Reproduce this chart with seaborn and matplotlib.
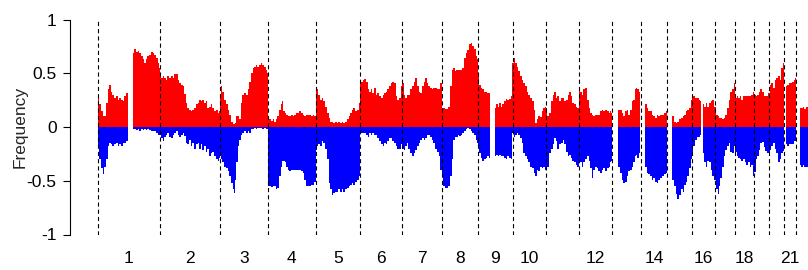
import numpy as np
import pandas as pd
import seaborn as sns
import matplotlib
matplotlib.use('Agg')
import matplotlib.pyplot as plt

# chromosome sizes (hg19, Mb) and which names get a label under the axis
chrom_len = [249.3, 243.2, 198.0, 191.2, 180.9, 171.1, 159.1, 146.4, 141.2, 135.5, 135.0,
             133.9, 115.2, 107.3, 102.5, 90.4, 81.2, 78.1, 59.1, 63.0, 48.1, 51.3]
chrom_names = [str(i) for i in range(1, 23)]
shown_labels = ['1', '2', '3', '4', '5', '6', '7', '8', '9', '10', '12', '14', '16', '18', '21']

nan = np.nan
# genome position (Mb), gain frequency, loss frequency; nan = no probes
pos_mb = [1, 8, 15, 22, 28, 35, 42, 49, 55, 62, 69, 76, 82, 89, 96, 103, 109, 116, 123, 130,
          143, 150, 157, 164, 170, 177, 184, 191, 197, 204, 211, 218, 224, 231, 238, 245, 248,
          251, 258, 265, 272, 278, 285, 292, 299, 305, 312, 319, 326, 332, 339, 346, 353, 359,
          366, 373, 380, 386, 393, 400, 407, 413, 420, 427, 434, 440, 447, 454, 461, 467, 474,
          481, 488, 491,
          494, 501, 508, 515, 522, 528, 535, 542, 549, 553, 558, 562, 569, 576, 582, 589, 596,
          603, 609, 616, 623, 630, 636, 643, 650, 657, 663, 670, 677, 684, 689,
          692, 698, 704, 711, 718, 724, 731, 738, 745, 749, 754, 758, 765, 772, 778, 785, 792,
          799, 805, 812, 819, 826, 832, 839, 846, 853, 859, 866, 873, 880,
          884, 890, 897, 904, 911, 917, 924, 931, 938, 944, 951, 958, 965, 971, 978, 985, 992,
          998, 1005, 1012, 1019, 1026, 1032, 1039, 1046, 1053, 1059, 1061,
          1064, 1069, 1076, 1082, 1089, 1096, 1103, 1109, 1116, 1123, 1130, 1136, 1143, 1150,
          1157, 1163, 1170, 1177, 1184, 1190, 1197, 1204, 1211, 1217, 1224, 1231,
          1235, 1242, 1248, 1255, 1262, 1269, 1276, 1282, 1289, 1296, 1303, 1309, 1316, 1323,
          1330, 1336, 1343, 1350, 1357, 1363, 1370, 1377, 1384, 1390,
          1397, 1404, 1411, 1417, 1424, 1431, 1438, 1444, 1447, 1454, 1461, 1467, 1474, 1481,
          1488, 1494, 1501, 1508, 1515, 1521, 1528, 1535, 1538,
          1542, 1548, 1555, 1562, 1569, 1575, 1582, 1588, 1598, 1609, 1616, 1623, 1630, 1636,
          1643, 1650, 1657, 1663, 1670, 1677,
          1682, 1688, 1694, 1701, 1708, 1715, 1721, 1728, 1735, 1742, 1748, 1755, 1762, 1769,
          1775, 1782, 1789, 1796, 1802, 1809, 1814,
          1819, 1825, 1832, 1839, 1846, 1852, 1859, 1866, 1873, 1880, 1886, 1893, 1900, 1907,
          1913, 1920, 1927, 1934, 1940, 1947,
          1952, 1958, 1965, 1971, 1978, 1985, 1992, 1998, 2005, 2012, 2019, 2025, 2032, 2039,
          2046, 2052, 2059, 2066, 2073, 2079, 2083, 2095,
          2106, 2113, 2120, 2127, 2133, 2140, 2147, 2154, 2160, 2167, 2174, 2177, 2183, 2190,
          2197, 2208,
          2217, 2221, 2228, 2235, 2242, 2248, 2255, 2262, 2269, 2275, 2282, 2289, 2296, 2302,
          2306, 2316,
          2325, 2332, 2339, 2346, 2352, 2359, 2366, 2373, 2379, 2386, 2393, 2400, 2406,
          2411, 2417, 2424, 2431, 2438, 2444, 2449, 2454, 2461, 2467, 2474, 2481, 2488, 2494,
          2501, 2508, 2515, 2520, 2527, 2533, 2540, 2547, 2554, 2560, 2567, 2574, 2580,
          2585, 2592, 2598, 2605, 2612, 2619, 2625, 2632, 2639, 2646, 2652, 2658,
          2662, 2669, 2675, 2682, 2689, 2696, 2702, 2709, 2716,
          2720, 2727, 2733, 2740, 2747, 2754, 2760, 2767, 2774, 2779, 2785,
          2791, 2797, 2804, 2810, 2817, 2824, 2829, 2838,
          2847, 2854, 2860, 2867, 2874, 2880]

gain = [0.30, 0.21, 0.15, 0.10, 0.10, 0.22, 0.35, 0.39, 0.33, 0.30, 0.27, 0.29, 0.25, 0.27,
        0.25, 0.24, 0.29, 0.32, 0.36, nan,
        0.69, 0.73, 0.70, 0.71, 0.69, 0.66, 0.63, 0.60, 0.63, 0.66, 0.67, 0.70, 0.69, 0.67,
        0.64, 0.60, 0.55,
        0.49, 0.46, 0.47, 0.46, 0.44, 0.47, 0.46, 0.47, 0.46, 0.49, 0.49, 0.44, 0.41, 0.39,
        0.38, 0.31, 0.22, 0.18, 0.16, 0.15, 0.16, 0.18, 0.21, 0.22, 0.25, 0.24, 0.25, 0.22,
        0.24, 0.18, 0.19, 0.21, 0.18, 0.15, 0.16, 0.13, 0.15,
        0.29, 0.38, 0.33, 0.25, 0.21, 0.16, 0.11, 0.05, 0.03, 0.03, 0.04, 0.10, 0.10, 0.07,
        0.22, 0.30, 0.32, 0.30, 0.35, 0.42, 0.50, 0.55, 0.56, 0.58, 0.56, 0.58, 0.60, 0.58,
        0.56, 0.53, 0.50,
        0.07, 0.07, 0.06, 0.07, 0.05, 0.07, 0.10, 0.16, 0.21, 0.24, 0.15, 0.13, 0.11, 0.10,
        0.10, 0.11, 0.10, 0.11, 0.13, 0.13, 0.15, 0.13, 0.11, 0.10, 0.11, 0.11, 0.11, 0.10,
        0.11, 0.10,
        0.36, 0.35, 0.30, 0.25, 0.27, 0.24, 0.19, 0.13, 0.08, 0.05, 0.05, 0.04, 0.05, 0.04,
        0.05, 0.04, 0.05, 0.04, 0.05, 0.07, 0.10, 0.13, 0.16, 0.18, 0.15, 0.16, 0.19, 0.22,
        0.42, 0.42, 0.44, 0.45, 0.42, 0.35, 0.33, 0.35, 0.32, 0.36, 0.30, 0.32, 0.29, 0.27,
        0.30, 0.32, 0.33, 0.35, 0.38, 0.41, 0.42, 0.41, 0.29, 0.25, 0.27, 0.38,
        0.41, 0.30, 0.27, 0.30, 0.30, 0.35, 0.38, 0.42, 0.46, 0.38, 0.33, 0.32, 0.38, 0.42,
        0.46, 0.41, 0.38, 0.36, 0.35, 0.36, 0.36, 0.35, 0.35, 0.41,
        0.18, 0.18, 0.17, 0.17, 0.19, 0.38, 0.53, 0.55, 0.52, 0.53, 0.53, 0.53, 0.53, 0.55,
        0.64, 0.69, 0.72, 0.77, 0.78, 0.75, 0.73, 0.66, 0.63,
        0.50, 0.39, 0.36, 0.35, 0.33, 0.33, 0.32, 0.32, nan, 0.18, 0.21, 0.19, 0.22, 0.19,
        0.21, 0.24, 0.26, 0.25, 0.26, 0.29,
        0.60, 0.64, 0.60, 0.56, 0.52, 0.47, 0.44, 0.41, 0.38, 0.33, 0.30, 0.27, 0.24, 0.16,
        0.04, 0.07, 0.10, 0.09, 0.15, 0.18, 0.19,
        0.18, 0.10, 0.13, 0.24, 0.30, 0.33, 0.27, 0.29, 0.24, 0.27, 0.27, 0.24, 0.25, 0.30,
        0.33, 0.29, 0.22, 0.21, 0.19, 0.18,
        0.35, 0.33, 0.30, 0.35, 0.36, 0.25, 0.18, 0.13, 0.11, 0.10, 0.11, 0.11, 0.11, 0.15,
        0.16, 0.15, 0.16, 0.15, 0.13, 0.15, 0.13, nan,
        0.11, 0.16, 0.16, 0.13, 0.10, 0.15, 0.16, 0.11, 0.16, 0.24, 0.25, 0.35, 0.36, 0.35,
        0.33, nan,
        0.15, 0.21, 0.18, 0.15, 0.15, 0.11, 0.10, 0.08, 0.11, 0.10, 0.11, 0.11, 0.13, 0.13,
        0.15, nan,
        0.13, 0.10, 0.05, 0.04, 0.05, 0.07, 0.08, 0.10, 0.11, 0.15, 0.16, 0.18, 0.25,
        0.27, 0.29, 0.27, 0.27, 0.25, 0.24, nan, 0.21, 0.19, 0.22, 0.19, 0.22, 0.24, 0.25,
        0.19, 0.11, 0.10, 0.08, 0.08, 0.07, 0.08, 0.11, 0.18, 0.25, 0.33, 0.35, 0.41,
        0.27, 0.29, 0.27, 0.29, 0.25, 0.29, 0.29, 0.29, 0.29, 0.29, 0.30, 0.33,
        0.30, 0.29, 0.30, 0.33, 0.35, 0.33, 0.29, 0.29, 0.29,
        0.32, 0.39, 0.41, 0.36, 0.44, 0.46, 0.47, 0.44, 0.55, 0.60, nan,
        0.38, 0.39, 0.41, 0.41, 0.42, 0.44, 0.46, nan,
        0.18, 0.18, 0.19, 0.17, 0.19, 0.19]

loss = [-0.18, -0.30, -0.38, -0.44, -0.37, -0.30, -0.18, -0.15, -0.16, -0.18, -0.16, -0.15,
        -0.18, -0.16, -0.18, -0.15, -0.15, -0.13, -0.10, nan,
        -0.02, -0.02, -0.03, -0.02, -0.04, -0.02, -0.03, -0.02, -0.03, -0.02, -0.03, -0.04,
        -0.04, -0.04, -0.06, -0.07, -0.07,
        -0.07, -0.10, -0.13, -0.09, -0.07, -0.06, -0.09, -0.10, -0.07, -0.06, -0.04, -0.07,
        -0.09, -0.07, -0.06, -0.08, -0.15, -0.16, -0.12, -0.18, -0.15, -0.20, -0.16, -0.15,
        -0.20, -0.16, -0.21, -0.18, -0.23, -0.20, -0.27, -0.24, -0.23, -0.27, -0.30, -0.32,
        -0.29,
        -0.24, -0.30, -0.33, -0.37, -0.38, -0.41, -0.46, -0.52, -0.58, -0.61, -0.49, -0.33,
        -0.18, -0.12, -0.07, -0.06, -0.04, -0.06, -0.04, -0.06, -0.02, -0.02, -0.01, -0.02,
        -0.01, -0.01, -0.01, -0.02, -0.01, -0.02, -0.02,
        -0.55, -0.55, -0.56, -0.55, -0.55, -0.58, -0.57, -0.46, -0.37, -0.32, -0.32, -0.33,
        -0.37, -0.40, -0.41, -0.40, -0.40, -0.40, -0.40, -0.40, -0.40, -0.41, -0.43, -0.49,
        -0.55, -0.55, -0.55, -0.54, -0.54, -0.51,
        -0.21, -0.18, -0.16, -0.18, -0.13, -0.15, -0.20, -0.30, -0.52, -0.58, -0.63, -0.61,
        -0.60, -0.60, -0.58, -0.60, -0.58, -0.60, -0.58, -0.57, -0.55, -0.54, -0.52, -0.54,
        -0.51, -0.49, -0.47, -0.46,
        -0.06, -0.06, -0.06, -0.06, -0.07, -0.09, -0.06, -0.07, -0.06, -0.07, -0.07, -0.10,
        -0.13, -0.16, -0.18, -0.15, -0.16, -0.13, -0.10, -0.10, -0.13, -0.15, -0.18, -0.20,
        -0.20, -0.16,
        -0.20, -0.21, -0.18, -0.15, -0.20, -0.24, -0.27, -0.24, -0.21, -0.18, -0.15, -0.12,
        -0.10, -0.12, -0.10, -0.07, -0.07, -0.09, -0.12, -0.15, -0.20, -0.23, -0.27, -0.40,
        -0.46, -0.55, -0.57, -0.57, -0.55, -0.46, -0.30, -0.12, -0.09, -0.09, -0.07, -0.08,
        -0.07, -0.06, -0.04, -0.02, -0.01, -0.02, -0.04, -0.06, -0.07, -0.12, -0.15,
        -0.18, -0.24, -0.29, -0.32, -0.30, -0.29, -0.27, -0.29, nan, -0.27, -0.26, -0.27,
        -0.26, -0.27, -0.27, -0.29, -0.30, -0.27, -0.29, -0.30,
        -0.06, -0.09, -0.07, -0.06, -0.07, -0.10, -0.15, -0.24, -0.27, -0.30, -0.33, -0.37,
        -0.38, -0.43, -0.46, -0.40, -0.41, -0.37, -0.38, -0.37, -0.40,
        -0.40, -0.37, -0.24, -0.20, -0.16, -0.10, -0.13, -0.20, -0.16, -0.15, -0.12, -0.16,
        -0.23, -0.27, -0.26, -0.29, -0.32, -0.33, -0.35, -0.37,
        -0.30, -0.33, -0.37, -0.33, -0.30, -0.27, -0.32, -0.38, -0.47, -0.40, -0.37, -0.38,
        -0.41, -0.43, -0.40, -0.38, -0.41, -0.38, -0.37, -0.33, -0.32, nan,
        -0.35, -0.37, -0.43, -0.49, -0.52, -0.51, -0.46, -0.41, -0.40, -0.37, -0.33, -0.27,
        -0.26, -0.29, -0.24, nan,
        -0.30, -0.37, -0.43, -0.44, -0.46, -0.49, -0.47, -0.51, -0.52, -0.49, -0.47, -0.46,
        -0.44, -0.44, -0.43, nan,
        -0.37, -0.49, -0.55, -0.62, -0.67, -0.63, -0.58, -0.60, -0.54, -0.51, -0.46, -0.38,
        -0.30,
        -0.24, -0.18, -0.12, -0.09, -0.09, -0.07, nan, -0.24, -0.33, -0.37, -0.32, -0.33,
        -0.40, -0.46,
        -0.49, -0.58, -0.62, -0.55, -0.47, -0.37, -0.27, -0.21, -0.18, -0.15, -0.23, -0.24,
        -0.18,
        -0.23, -0.27, -0.29, -0.30, -0.32, -0.30, -0.33, -0.35, -0.33, -0.37, -0.35, -0.46,
        -0.42, -0.30, -0.27, -0.21, -0.15, -0.14, -0.19, -0.22, -0.24,
        -0.24, -0.21, -0.18, -0.15, -0.20, -0.24, -0.33, -0.30, -0.24, -0.22, nan,
        -0.16, -0.18, -0.16, -0.16, -0.16, -0.13, -0.13, nan,
        -0.35, -0.37, -0.35, -0.37, -0.37, -0.37]

df = pd.DataFrame({'pos': pos_mb, 'gain': gain, 'loss': loss})

starts = np.concatenate([[0], np.cumsum(chrom_len)])
mids = starts[:-1] + np.array(chrom_len) / 2
label_pos = [m for m, n in zip(mids, chrom_names) if n in shown_labels]
label_txt = [n for n in chrom_names if n in shown_labels]

sns.set_theme(style='ticks')
plt.rcParams['font.family'] = ['Liberation Sans', 'DejaVu Sans']
plt.rcParams['lines.scale_dashes'] = False
plt.rcParams['axes.unicode_minus'] = False

fig = plt.figure(figsize=(8.08, 2.70), dpi=100)
ax = fig.add_axes([69.6 / 808, 35.5 / 270, 767.5 / 808, 215 / 270])

ax.fill_between(df['pos'], 0, df['gain'], step='mid', color='#FF0000', lw=0)
ax.fill_between(df['pos'], df['loss'], 0, step='mid', color='#0000FF', lw=0)

for s in starts:
    ax.axvline(s, color='black', lw=0.8, ls=(0, (3.0, 2.2)), zorder=3)

pad = 0.04 * starts[-1]
ax.set_xlim(-pad, starts[-1] + pad)
ax.set_ylim(-1, 1)

ax.set_yticks([-1, -0.5, 0, 0.5, 1])
ax.set_yticklabels(['-1', '-0.5', '0', '0.5', '1'])
ax.set_xticks(label_pos)
ax.set_xticklabels(label_txt)
ax.tick_params(axis='y', length=4.8, width=0.8, pad=4.5, labelsize=12.5, colors='black')
ax.tick_params(axis='x', length=0, pad=12, labelsize=12.5, colors='black')

sns.despine(ax=ax, bottom=True)
ax.spines['left'].set_color('black')
ax.spines['left'].set_linewidth(0.8)

ax.set_ylabel('Frequency', fontsize=12.5, va='center')
ax.yaxis.set_label_coords(-49.6 / 767.5, 0.5)

fig.savefig('out.png', dpi=100)
